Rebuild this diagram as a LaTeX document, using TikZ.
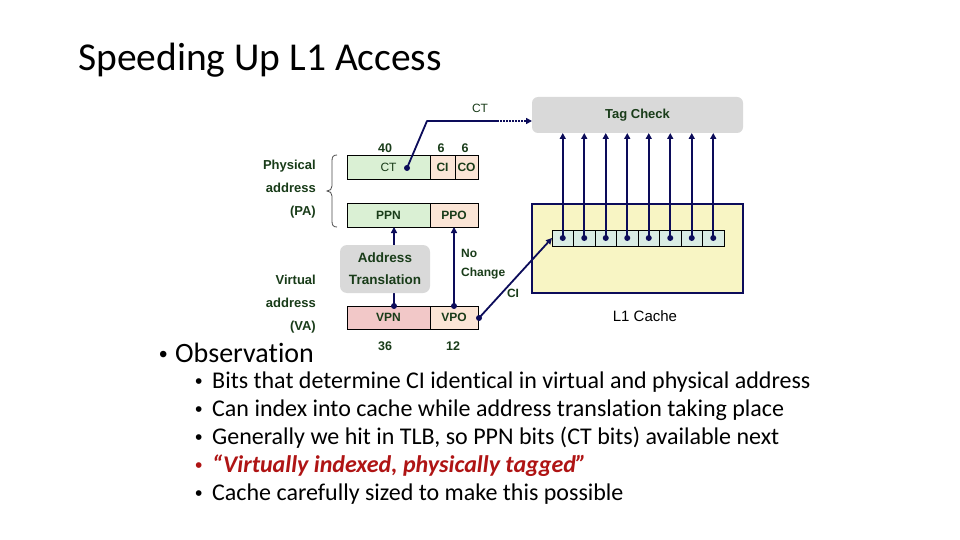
\documentclass[tikz,border=0pt]{standalone}
\usepackage{fontspec}
\setmainfont{Carlito}[Ligatures=NoCommon]
\newfontfamily\dfont{Liberation Sans}
\usetikzlibrary{arrows.meta,calc}
\definecolor{dgreen}{RGB}{25,60,25}
\definecolor{navy}{RGB}{12,12,90}
\definecolor{fgreen}{RGB}{218,240,212}
\definecolor{fpeach}{RGB}{251,229,214}
\definecolor{fpink}{RGB}{242,200,200}
\definecolor{boxgray}{RGB}{217,217,217}
\definecolor{cachey}{RGB}{248,245,196}
\definecolor{cellf}{RGB}{218,236,228}
\definecolor{bred}{RGB}{175,20,20}
\tikzset{
  field/.style={draw=black, line width=0.8pt, inner sep=0pt, outer sep=0pt,
    minimum height=24pt, text=dgreen, font=\dfont\bfseries\fontsize{12}{14}\selectfont},
  graybox/.style={fill=boxgray, rounded corners=7pt, inner sep=0pt, outer sep=0pt,
    text=dgreen, align=center, font=\dfont\bfseries\fontsize{13.5}{22}\selectfont},
  small/.style={text=dgreen, inner sep=0pt, font=\dfont\bfseries\fontsize{12.5}{14}\selectfont},
  lbl/.style={text=dgreen, inner sep=0pt, align=right, font=\dfont\bfseries\fontsize{13}{23}\selectfont},
  arr/.style={navy, line width=1.8pt, -{Triangle[length=6pt,width=6pt]}},
  wire/.style={navy, line width=1.8pt},
  cell/.style={draw=black, line width=1pt, fill=cellf, inner sep=0pt, outer sep=0pt,
    minimum width=21.5pt, minimum height=16pt},
  bul/.style={anchor=base west, inner sep=0pt, font=\fontsize{24}{28}\selectfont},
  bdot/.style={anchor=base west, inner sep=0pt, font=\dfont\fontsize{21}{24}\selectfont},
}
\begin{document}
\begin{tikzpicture}[x=1pt,y=-1pt]
\useasboundingbox[fill=white] (0,0) rectangle (960,540);
% title
\node[anchor=base west, inner sep=0pt, font=\fontsize{39.5}{45}\selectfont] (title) at (78,71) {Speeding Up L1 Access};

% physical address fields
\node[field, fill=fgreen, minimum width=83pt, font=\dfont\fontsize{12}{14}\selectfont] (ct) at (388.5,167) {CT};
\node[field, fill=fpeach, minimum width=25pt] (ci) at (442.5,167) {CI};
\node[field, fill=fpeach, minimum width=23pt] (co) at (466.5,167) {CO};
\node[field, fill=fgreen, minimum width=83pt] (ppn) at (388.5,215) {PPN};
\node[field, fill=fpeach, minimum width=48pt] (ppo) at (454,215) {PPO};
% virtual address fields
\node[field, fill=fpink, minimum width=83pt, minimum height=23pt] (vpn) at (388.5,317.5) {VPN};
\node[field, fill=fpeach, minimum width=48pt, minimum height=23pt] (vpo) at (454,317.5) {VPO};

% bit widths
\node[small] (n40) at (385,148) {40};
\node[small] (n6a) at (441,148) {6};
\node[small] (n6b) at (465,148) {6};
\node[small] (n36) at (385,346) {36};
\node[small] (n12) at (453,346) {12};

% translation arrows
\coordinate (vpndot) at (394,306);
\coordinate (vpodot) at (454,306);
\draw[arr] (vpndot) -- (vpndot |- ppn.south);
\draw[arr] (vpodot) -- (vpodot |- ppo.south);
\fill[navy] (vpndot) circle (3pt);
\fill[navy] (vpodot) circle (3pt);
\node[graybox, minimum width=90pt, minimum height=48pt] (at) at (385,269) {Address\\Translation};
\node[small, anchor=west, align=left, font=\dfont\bfseries\fontsize{12}{19}\selectfont] (nochg) at (461,264) {No\\Change};

% tag check and cache
\node[graybox, minimum width=211pt, minimum height=36pt, rounded corners=6pt, font=\dfont\bfseries\fontsize{13}{15}\selectfont] (tag) at (637.5,115) {Tag Check};
\node[draw=navy, line width=2.5pt, fill=cachey, minimum width=211pt, minimum height=89pt, inner sep=0pt] (cache) at (637.5,248.5) {};
\foreach \i in {1,...,8} {
  \node[cell] (c\i) at ({552+21.5*(\i-0.5)},238) {};
}
\foreach \i in {1,...,8} {
  \draw[arr] (c\i.center) -- (c\i.center |- tag.south);
  \fill[navy] (c\i.center) circle (3pt);
}
\node[inner sep=0pt, font=\dfont\fontsize{15}{17}\selectfont] (l1) at (645,316) {L1 Cache};

% CT to tag check
\coordinate (ctdot) at (407,168);
\coordinate (ctb1) at (427,121);
\coordinate (ctb2) at (497,121);
\draw[wire, line join=round] (ctdot) -- (ctb1) -- (ctb2);
\draw[navy, line width=1.8pt, dash pattern=on 1.6pt off 1.4pt, -{Triangle[length=6pt,width=6pt]}] (ctb2) -- (ctb2 -| tag.west);
\fill[navy] (ctdot) circle (3pt);
\node[inner sep=0pt, text=dgreen, font=\dfont\fontsize{12}{14}\selectfont] (ctlbl) at (480,108) {CT};

% CI from VPO to cache
\coordinate (cidot) at (479,318);
\draw[arr] (cidot) -- (c1.west);
\fill[navy] (cidot) circle (3pt);
\node[small, font=\dfont\bfseries\fontsize{12}{14}\selectfont] (cilbl) at (513,293) {CI};

% address labels
\node[lbl, anchor=east] (pa) at (316,189) {Physical\\address\\(PA)};
\node[lbl, anchor=east] (va) at (316,304) {Virtual\\address\\(VA)};
\draw[black!70, line width=0.8pt] (337,155) .. controls (333,155) and (332,157) .. (332,161) -- (332,186)
  .. controls (332,189) and (330,191) .. (327,191) .. controls (330,191) and (332,193) .. (332,196)
  -- (332,221) .. controls (332,225) and (333,227) .. (337,227);

% bullets
\node[anchor=base west, inner sep=0pt, font=\dfont\fontsize{24}{28}\selectfont] (obsb) at (159,362) {•};
\node[anchor=base west, inner sep=0pt, font=\fontsize{28}{32}\selectfont] (obs) at (175,362) {Observation};
\foreach \y in {388,416,444,500} {
  \node[bdot] at (195,\y) {•};
}
\node[bdot, text=bred] (b4b) at (195,472) {•};
\node[bul] (b1) at (212,388) {Bits that determine CI identical in virtual and physical address};
\node[bul] (b2) at (212,416) {Can index into cache while address translation taking place};
\node[bul] (b3) at (212,444) {Generally we hit in TLB, so PPN bits (CT bits) available next};
\node[bul, text=bred] (b4) at (212,472) {\textbf{\textit{“Virtually indexed, physically tagged”}}};
\node[bul] (b5) at (212,500) {Cache carefully sized to make this possible};
\end{tikzpicture}
\end{document}
